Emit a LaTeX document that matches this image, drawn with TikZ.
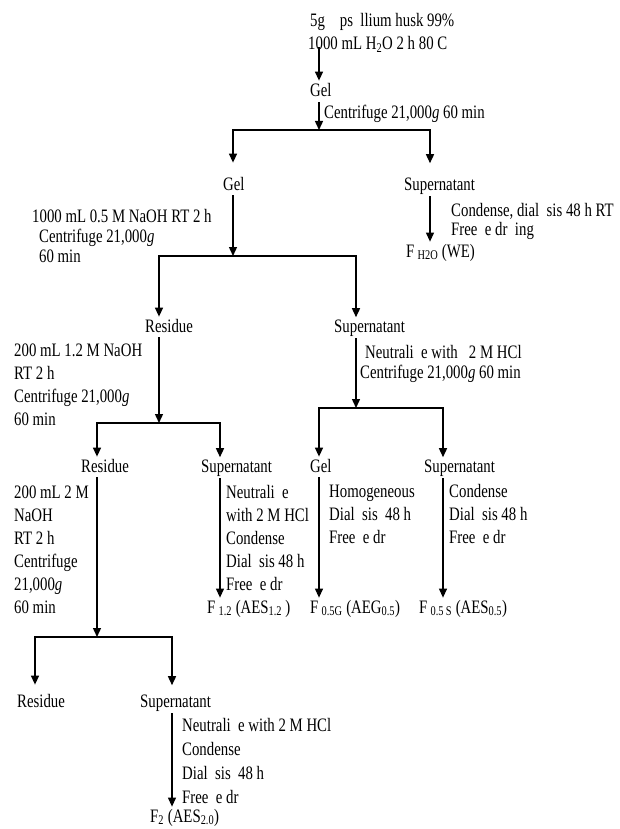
\documentclass[tikz,border=0pt]{standalone}
\usepackage{fontspec}
\setmainfont{Liberation Serif}[FakeStretch=0.78]
\usepackage{tikz}
\usetikzlibrary{arrows.meta}
\newcommand{\flowfont}{\fontsize{19}{23}\selectfont}
\tikzset{
  stage/.style={inner sep=2pt,font=\flowfont,anchor=base west},
  note/.style={stage,align=left},
  tight/.style={font=\fontsize{19}{20}\selectfont},
  bar/.style={line width=1.5pt,line cap=rect},
  arr/.style={-{Triangle[length=9pt,width=8pt]},line width=1.4pt},
  arrthin/.style={arr,line width=1.1pt},
}
\begin{document}
\begin{tikzpicture}[x=1pt,y=-1pt]
  \useasboundingbox (0,0) rectangle (619,829);
  % water extraction (multi-line notes sit on their last baseline)
  \node[note](START) at (306,50) {\hspace*{2pt}5g\ \ \ \ ps\ \ llium husk 99\%\\1000 mL H\textsubscript{2}O 2 h 80 C};
  \node[stage](GEL1) at (308,97) {Gel};
  \node[note](CF1) at (322,119) {Centrifuge 21,000\textit{g} 60 min};
  \coordinate (B1)  at (319,130);
  \coordinate (B1L) at (233,130);
  \coordinate (B1R) at (430,130);
  \node[stage](GEL2) at (221,190) {Gel};
  \node[stage](SUP1) at (402,190) {Supernatant};
  \node[note,font=\fontsize{19}{19}\selectfont](DIAL1) at (449,235) {Condense, dial\ \ sis 48 h RT\\Free\ \ e dr\ \ ing};
  \node[stage](FH2O) at (404,257) {F\,\textsubscript{H2O} (WE)};
  % 0.5 M NaOH
  \node[note,tight](NAOH1) at (30,262) {1000 mL 0.5 M NaOH RT 2 h\\\hspace*{7pt}Centrifuge 21,000\textit{g}\\\hspace*{7pt}60 min};
  \coordinate (B2)  at (233,256);
  \coordinate (B2L) at (159,256);
  \coordinate (B2R) at (356,256);
  \node[stage](RES1) at (143,332) {Residue};
  \node[stage](SUP2) at (332,332) {Supernatant};
  \node[note](NAOH2) at (12,425) {200 mL 1.2 M NaOH\\RT 2 h\\Centrifuge 21,000\textit{g}\\60 min};
  \node[note,tight](NEU2) at (363,378) {Neutrali\ \ e with\ \ \ 2 M HCl\\\hspace*{-5pt}Centrifuge 21,000\textit{g} 60 min};
  % 1.2 M NaOH / neutralised
  \coordinate (B3)  at (159,423);
  \coordinate (B3L) at (97,423);
  \coordinate (B3R) at (220,423);
  \coordinate (B4)  at (356,408);
  \coordinate (B4L) at (319,408);
  \coordinate (B4R) at (443,408);
  \node[stage](RES2) at (79,472) {Residue};
  \node[stage](SUP3) at (199,472) {Supernatant};
  \node[stage](GEL3) at (308,472) {Gel};
  \node[stage](SUP4) at (422,472) {Supernatant};
  \node[note](NAOH3) at (12,613) {200 mL 2 M\\NaOH\\RT 2 h\\Centrifuge\\21,000\textit{g}\\60 min};
  \node[note](NEU3) at (224,590) {Neutrali\ \ e\\with 2 M HCl\\Condense\\Dial\ \ sis 48 h\\Free\ \ e dr};
  \node[note](HOMO) at (327,543) {Homogeneous\\Dial\ \ sis\ \ 48 h\\Free\ \ e dr};
  \node[note](COND4) at (447,543) {Condense\\Dial\ \ sis 48 h\\Free\ \ e dr};
  \node[stage](F12) at (205,613) {F\,\textsubscript{1.2} (AES\textsubscript{1.2}\,)};
  \node[stage](F05G) at (308,613) {F\,\textsubscript{0.5G} (AEG\textsubscript{0.5})};
  \node[stage](F05S) at (417,613) {F\,\textsubscript{0.5\,S} (AES\textsubscript{0.5})};
  % 2 M NaOH
  \coordinate (B5)  at (97,637);
  \coordinate (B5L) at (35,637);
  \coordinate (B5R) at (172,637);
  \node[stage](RES3) at (15,707) {Residue};
  \node[stage](SUP5) at (138,707) {Supernatant};
  \node[note,font=\fontsize{19}{23.7}\selectfont](NEU5) at (180,803) {Neutrali\ \ e with 2 M HCl\\Condense\\Dial\ \ sis\ \ 48 h\\Free\ \ e dr};
  \node[stage](F2) at (148,822) {F\textsubscript{2} (AES\textsubscript{2.0})};

  \draw[arr,shorten <=-8pt,shorten >=1pt] (B1 |- START.south) -- (B1 |- GEL1.north);
  \draw[arr,shorten <=3pt] (B1 |- GEL1.south) -- (B1);
  \draw[bar] (B1L) -- (B1R);
  \draw[arr,shorten >=12pt] (B1L) -- (B1L |- GEL2.north);
  \draw[arr,shorten >=12pt] (B1R) -- (B1R |- SUP1.north);
  \draw[arr,shorten <=3pt] (B1L |- GEL2.south) -- (B2);
  \draw[arrthin] (B1R |- SUP1.south) -- (B1R |- FH2O.north);
  \draw[bar] (B2L) -- (B2R);
  \draw[arr] (B2L) -- (B2L |- RES1.north);
  \draw[arr] (B2R) -- (B2R |- SUP2.north);
  \draw[arr,shorten <=3pt] (B2L |- RES1.south) -- (B3);
  \draw[arr] (B2R |- SUP2.south) -- (B4);
  \draw[bar] (B3L) -- (B3R);
  \draw[arr] (B3L) -- (B3L |- RES2.north);
  \draw[arr] (B3R) -- (B3R |- SUP3.north);
  \draw[bar] (B4L) -- (B4R);
  \draw[arr] (B4L) -- (B4L |- GEL3.north);
  \draw[arr] (B4R) -- (B4R |- SUP4.north);
  \draw[arr,shorten <=3pt] (B3L |- RES2.south) -- (B5);
  \draw[arrthin] (B3R |- SUP3.south) -- (B3R |- F12.north);
  \draw[arrthin,shorten <=3pt] (B4L |- GEL3.south) -- (B4L |- F05G.north);
  \draw[arrthin] (B4R |- SUP4.south) -- (B4R |- F05S.north);
  \draw[bar] (B5L) -- (B5R);
  \draw[arr,shorten >=7pt] (B5L) -- (B5L |- RES3.north);
  \draw[arr,shorten >=7pt] (B5R) -- (B5R |- SUP5.north);
  \draw[arrthin] (B5R |- SUP5.south) -- (B5R |- F2.north);
\end{tikzpicture}
\end{document}
